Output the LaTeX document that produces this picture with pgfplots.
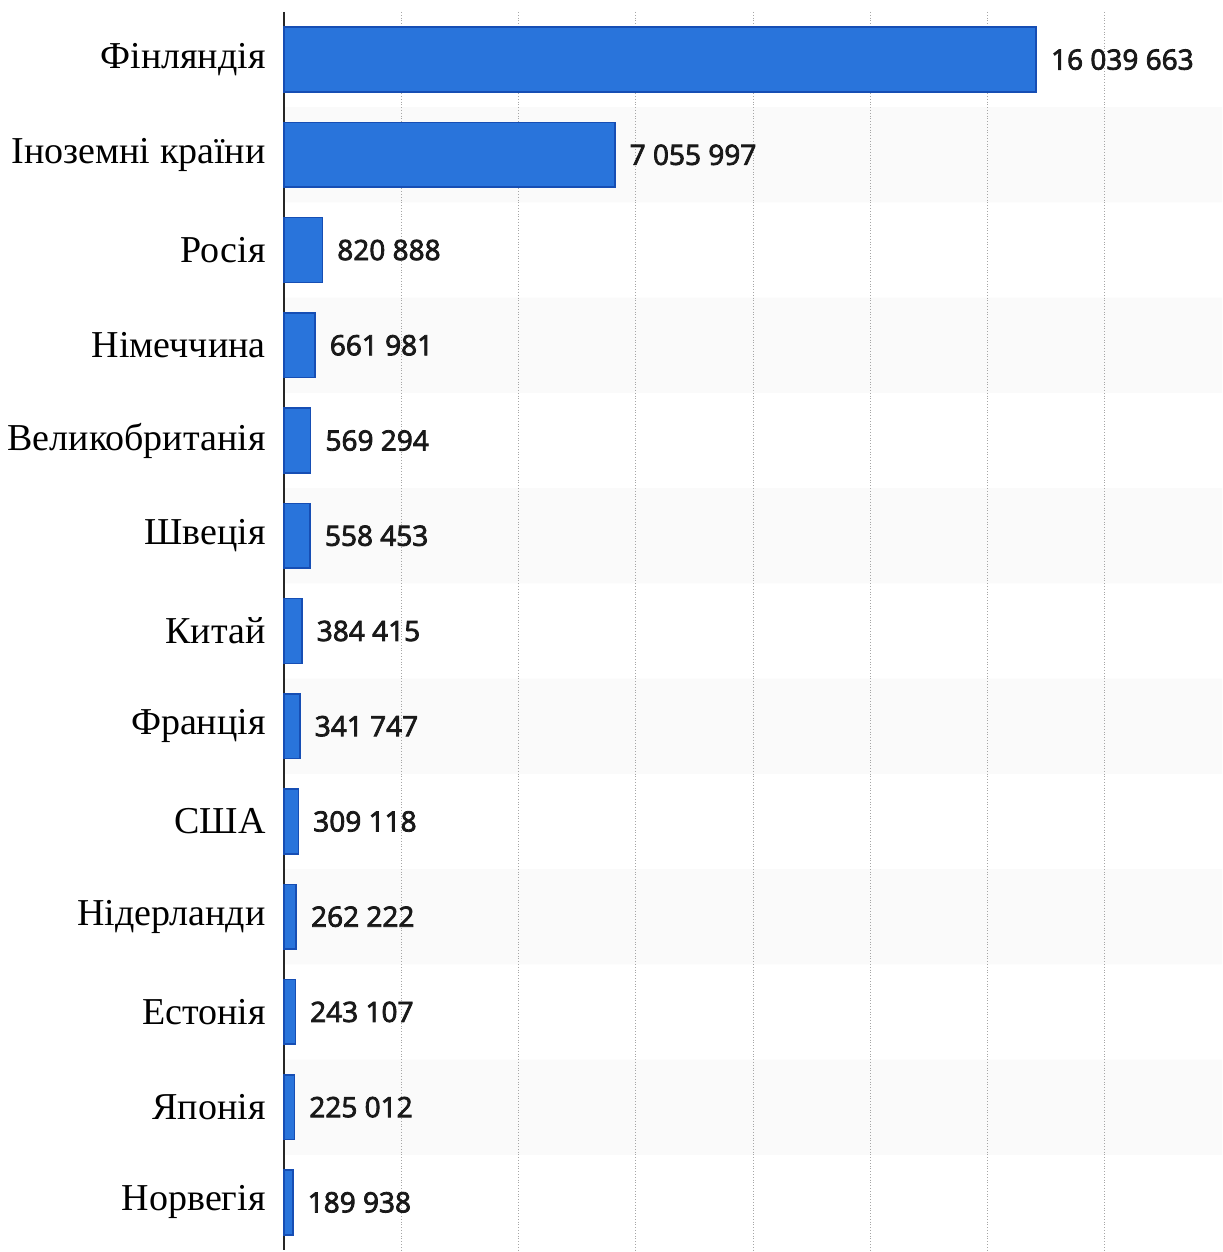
\documentclass[border=0pt]{standalone}
\usepackage{fontspec}
\setmainfont{Liberation Serif}
\newfontfamily\valfont{Open Sans}[FakeBold=2.8]
\usepackage{pgfplots}
\pgfplotsset{compat=1.18}
\definecolor{barfill}{RGB}{41,116,219}
\definecolor{bardraw}{RGB}{22,78,180}
\begin{document}
\begin{tikzpicture}
\begin{axis}[
  at={(0,0)}, anchor=south west,
  width=469pt, height=619pt, scale only axis,
  set layers,
  xmin=0, xmax=20000000, ymin=-0.5, ymax=12.5, y dir=reverse,
  xtick={2500000,5000000,7500000,10000000,12500000,15000000,17500000},
  xticklabels={}, scaled x ticks=false,
  xmajorgrids, grid style={densely dotted, black!35, line width=0.5pt},
  ytick={0,1,2,3,4,5,6,7,8,9,10,11,12},
  yticklabels={Фінляндія, Іноземні країни, Росія, Німеччина, Великобританія, Швеція, Китай, Франція, США, Нідерланди, Естонія, Японія, Норвегія},
  major tick length=0pt,
  axis x line*=bottom, x axis line style={draw=none},
  axis y line*=left, y axis line style={black!85, line width=0.9pt, -},
  yticklabel style={font=\fontsize{19}{22}\selectfont, anchor=east, inner sep=0pt, xshift=-9pt},
  clip=false,
]
\addplot[xbar, bar width=1, bar shift=0pt, fill=black!2, draw=none, on layer=axis background, forget plot]
  coordinates {(20000000,1) (20000000,3) (20000000,5) (20000000,7) (20000000,9) (20000000,11)};
\addplot[xbar, bar width=0.68, bar shift=0pt, fill=barfill, draw=bardraw, line width=0.8pt,
  point meta=explicit symbolic,
  nodes near coords={\valfont\pgfplotspointmeta},
  nodes near coords style={anchor=west, inner sep=0pt, xshift=7pt, font=\fontsize{14}{16}\selectfont, text=black!90}]
  coordinates {
  (16039663,0) [16 039 663]
  (7055997,1) [7 055 997]
  (820888,2) [820 888]
  (661981,3) [661 981]
  (569294,4) [569 294]
  (558453,5) [558 453]
  (384415,6) [384 415]
  (341747,7) [341 747]
  (309118,8) [309 118]
  (262222,9) [262 222]
  (243107,10) [243 107]
  (225012,11) [225 012]
  (189938,12) [189 938]
  };
\end{axis}
\pgfresetboundingbox
\useasboundingbox (-142pt,-1pt) rectangle (469pt,625pt);
\end{tikzpicture}
\end{document}
